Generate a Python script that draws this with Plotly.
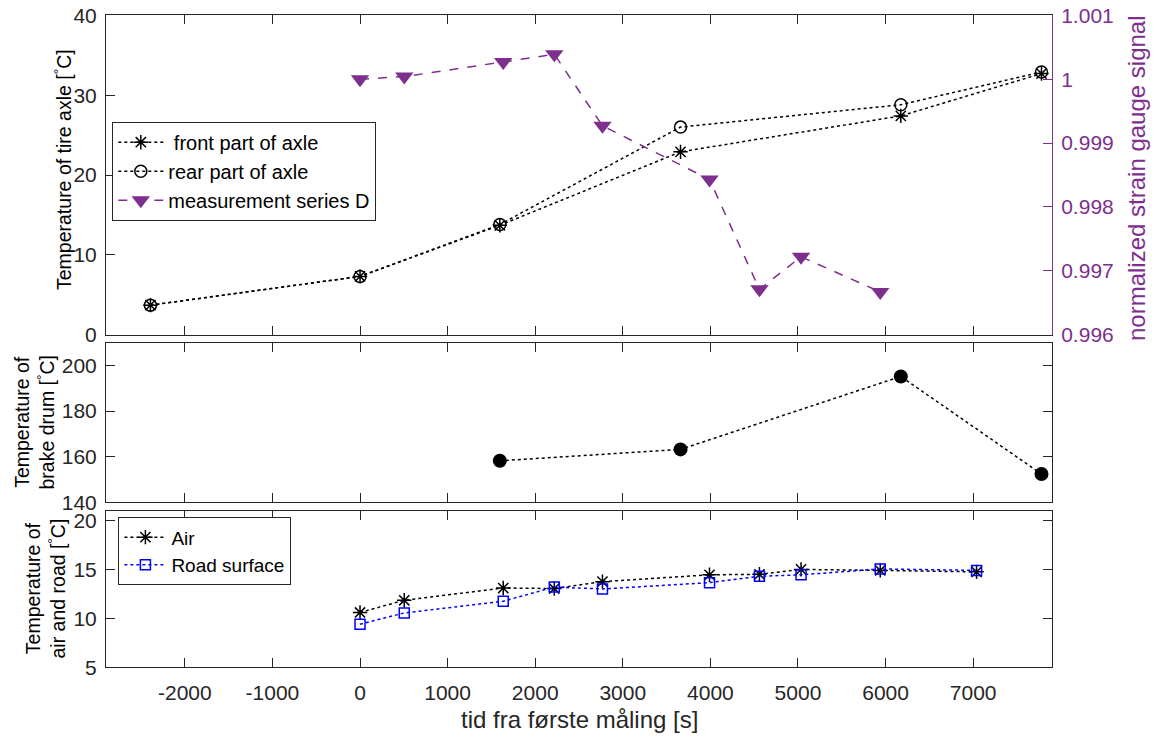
import plotly.graph_objects as go

# ---------------- data ----------------
t_axle = [-2393, 0, 1596, 3659, 6174, 7780]
axle_front = [3.7, 7.3, 13.7, 22.9, 27.4, 32.7]
axle_rear = [3.7, 7.3, 13.8, 26.0, 28.8, 32.9]

t_series_d = [0, 505, 1635, 2218, 2768, 3990, 4560, 5035, 5939]
series_d = [1.0000, 1.00004, 1.00027, 1.00039, 0.99927, 0.99843, 0.99671, 0.99722, 0.99667]

t_brake = [1596, 3659, 6174, 7780]
brake_drum = [158.2, 163.2, 195.2, 152.4]

t_air = [0, 505, 1635, 2218, 2768, 3990, 4560, 5035, 5939, 7039]
air = [10.6, 11.85, 13.1, 13.05, 13.75, 14.45, 14.5, 15.0, 14.9, 14.75]
road = [9.4, 10.55, 11.75, 13.2, 13.0, 13.65, 14.3, 14.45, 15.05, 14.9]

x_ticks = [-2000, -1000, 0, 1000, 2000, 3000, 4000, 5000, 6000, 7000]
x_ticktext = ["-2000", "-1000", "0", "1000", "2000", "3000", "4000", "5000", "6000", "7000"]
right_ticks = [0.996, 0.997, 0.998, 0.999, 1.0, 1.001]
right_ticktext = ["0.996", "0.997", "0.998", "0.999", "1", "1.001"]

# ---------------- style ----------------
W, H = 1161, 739
FONT = "Liberation Sans, Arial, Helvetica, sans-serif"
AX = "#262626"
PURPLE = "#7E2F8E"
BLUE = "#0000FF"

def px_x(p):
    return p / W

def px_y(p):
    return 1 - p / H

x_dom = [px_x(106), px_x(1052)]
top_dom = [px_y(334.7), px_y(15.3)]
mid_dom = [px_y(502.3), px_y(342.7)]
bot_dom = [px_y(667.3), px_y(510.7)]

fig = go.Figure()

fig.add_trace(go.Scatter(
    x=t_axle, y=axle_front, name="\u00a0front part of axle", mode="lines+markers",
    line=dict(color="black", dash="dot", width=1.5),
    marker=dict(symbol="asterisk-open", size=12, color="black", line=dict(color="black", width=1.5)),
    xaxis="x", yaxis="y", legend="legend"))
fig.add_trace(go.Scatter(
    x=t_axle, y=axle_rear, name="rear part of axle", mode="lines+markers",
    line=dict(color="black", dash="dot", width=1.5),
    marker=dict(symbol="circle-open", size=12, color="black", line=dict(color="black", width=1.5)),
    xaxis="x", yaxis="y", legend="legend"))
fig.add_trace(go.Scatter(
    x=t_series_d, y=series_d, name="measurement series D", mode="lines+markers",
    line=dict(color=PURPLE, dash="dash", width=1.5),
    marker=dict(symbol="triangle-down", size=16, color=PURPLE),
    xaxis="x", yaxis="y2", legend="legend"))
fig.add_trace(go.Scatter(
    x=t_brake, y=brake_drum, name="brake drum", mode="lines+markers", showlegend=False,
    line=dict(color="black", dash="dot", width=1.5),
    marker=dict(symbol="circle", size=14, color="black"),
    xaxis="x2", yaxis="y3"))
fig.add_trace(go.Scatter(
    x=t_air, y=air, name="Air", mode="lines+markers",
    line=dict(color="black", dash="dot", width=1.5),
    marker=dict(symbol="asterisk-open", size=12, color="black", line=dict(color="black", width=1.5)),
    xaxis="x3", yaxis="y4", legend="legend2"))
fig.add_trace(go.Scatter(
    x=t_air, y=road, name="Road surface", mode="lines+markers",
    line=dict(color=BLUE, dash="dot", width=1.5),
    marker=dict(symbol="square-open", size=10, color=BLUE, line=dict(color=BLUE, width=1.5)),
    xaxis="x3", yaxis="y4", legend="legend2"))

tickfont = dict(family=FONT, size=21, color=AX)
common = dict(showline=True, linecolor=AX, linewidth=1, ticks="inside", ticklen=9,
              tickcolor=AX, tickwidth=1, showgrid=False, zeroline=False, tickfont=tickfont,
              automargin=False)

xcommon = dict(common, domain=x_dom, range=[-2900, 7900], tickvals=x_ticks,
               ticktext=x_ticktext, mirror="ticks")

fig.update_layout(
    width=W, height=H, autosize=False,
    margin=dict(l=0, r=0, t=0, b=0, pad=0),
    paper_bgcolor="white", plot_bgcolor="white",
    font=dict(family=FONT, color=AX),
    xaxis=dict(xcommon, anchor="y", showticklabels=False),
    xaxis2=dict(xcommon, anchor="y3", matches="x", showticklabels=False),
    xaxis3=dict(xcommon, anchor="y4", showticklabels=True, ticklabelstandoff=6),
    yaxis=dict(common, domain=top_dom, anchor="x", range=[0, 40],
               tickvals=[0, 10, 20, 30, 40], mirror=False, ticklabelstandoff=4),
    yaxis2=dict(common, overlaying="y", side="right", anchor="x", range=[0.996, 1.001],
                tickvals=right_ticks, ticktext=right_ticktext, linecolor=PURPLE,
                tickcolor=PURPLE, tickfont=dict(family=FONT, size=21, color=PURPLE),
                ticklabelstandoff=4),
    yaxis3=dict(common, domain=mid_dom, anchor="x2", range=[140, 210],
                tickvals=[140, 160, 180, 200], mirror="ticks", ticklabelstandoff=4),
    yaxis4=dict(common, domain=bot_dom, anchor="x3", range=[5, 21],
                tickvals=[5, 10, 15, 20], mirror="ticks", ticklabelstandoff=4),
    legend=dict(x=px_x(112.3), y=px_y(121.7), xanchor="left", yanchor="top",
                bgcolor="white", bordercolor=AX, borderwidth=1,
                font=dict(family=FONT, size=20, color="black"),
                itemwidth=45, traceorder="normal"),
    legend2=dict(x=px_x(118.4), y=px_y(517.3), xanchor="left", yanchor="top",
                 bgcolor="white", bordercolor=AX, borderwidth=1,
                 font=dict(family=FONT, size=19, color="black"),
                 itemwidth=42, traceorder="normal"),
)

ann_font = dict(family=FONT, size=19.5, color="black")
fig.add_annotation(text="Temperature of tire axle [<sup>°</sup>C]", textangle=-90,
                   x=px_x(63), y=px_y(170), xref="paper", yref="paper",
                   xanchor="center", yanchor="middle", showarrow=False, font=ann_font)
fig.add_annotation(text="Temperature of<br>brake drum [<sup>°</sup>C]", textangle=-90,
                   x=px_x(34), y=px_y(422.5), xref="paper", yref="paper",
                   xanchor="center", yanchor="middle", showarrow=False, font=ann_font)
fig.add_annotation(text="Temperature of<br>air and road [<sup>°</sup>C]", textangle=-90,
                   x=px_x(44.5), y=px_y(589), xref="paper", yref="paper",
                   xanchor="center", yanchor="middle", showarrow=False, font=ann_font)
fig.add_annotation(text="normalized strain gauge signal", textangle=-90,
                   x=px_x(1137), y=px_y(178), xref="paper", yref="paper",
                   xanchor="center", yanchor="middle", showarrow=False,
                   font=dict(family=FONT, size=24, color=PURPLE))
fig.add_annotation(text="tid fra første måling [s]",
                   x=px_x(579), y=px_y(719), xref="paper", yref="paper",
                   xanchor="center", yanchor="middle", showarrow=False,
                   font=dict(family=FONT, size=24, color=AX))

fig.write_html("out.html")
